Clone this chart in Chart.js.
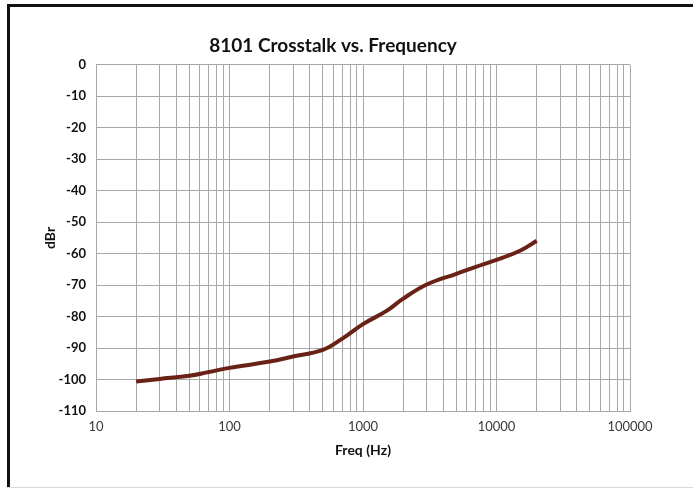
<!DOCTYPE html>
<html>
<head>
<meta charset="utf-8">
<script src="https://cdn.jsdelivr.net/npm/chart.js@4/dist/chart.umd.min.js"></script>
<style>
  html, body { margin: 0; padding: 0; background: #fff; }
  #wrap { position: relative; width: 693px; height: 491px; background: #fff; }
  #frameTop { position: absolute; left: 7px; top: 4px; width: 686px; height: 3px; background: #111; }
  #frameLeft { position: absolute; left: 7px; top: 4px; width: 3px; height: 484px; background: #111; }
  #frameBottom { position: absolute; left: 7px; top: 487px; width: 686px; height: 1px; background: #d8d8d8; }
  canvas { position: absolute; left: 0; top: 0; }
</style>
</head>
<body>
<div id="wrap">
  <canvas id="chart" width="693" height="491"></canvas>
  <div id="frameTop"></div>
  <div id="frameLeft"></div>
  <div id="frameBottom"></div>
</div>
<script>
const freqs = [20, 30, 50, 70, 100, 200, 300, 500, 700, 1000, 1500, 2000, 3000, 5000, 7000, 10000, 15000, 20000];
const dbr = [-100.6, -99.8, -98.8, -97.6, -96.3, -94.3, -92.7, -90.6, -87.0, -82.4, -78.2, -74.3, -69.8, -66.4, -64.2, -62.0, -59.1, -55.9];
const xDecades = [10, 100, 1000, 10000, 100000];
const yMin = -110, yMax = 0, yStep = 10;

const gridGray = '#a8a8a8';
const fontFam = "Lato, 'Open Sans', sans-serif";

new Chart(document.getElementById('chart'), {
  type: 'line',
  data: {
    datasets: [{
      label: 'Crosstalk',
      data: freqs.map((f, i) => ({ x: f, y: dbr[i] })),
      borderColor: '#6a2116',
      borderWidth: 4,
      pointRadius: 0,
      tension: 0.4,
      fill: false
    }]
  },
  options: {
    responsive: false,
    animation: false,
    layout: { padding: { left: 36, right: 63, top: 0, bottom: 28 } },
    plugins: {
      legend: { display: false },
      tooltip: { enabled: false },
      title: {
        display: true,
        text: '8101 Crosstalk vs. Frequency',
        color: '#111',
        font: { family: fontFam, size: 19, weight: 'bold' },
        padding: { top: 34, bottom: 8 }
      }
    },
    scales: {
      x: {
        type: 'logarithmic',
        min: xDecades[0],
        max: xDecades[xDecades.length - 1],
        afterBuildTicks: scale => {
          const t = [];
          for (let d = 0; d < xDecades.length - 1; d++) {
            for (let m = 1; m < 10; m++) t.push({ value: xDecades[d] * m });
          }
          t.push({ value: xDecades[xDecades.length - 1] });
          scale.ticks = t;
        },
        afterFit: scale => { scale.height = 52; },
        ticks: {
          autoSkip: false,
          maxRotation: 0,
          color: '#3a3a3a',
          font: { family: fontFam, size: 13 },
          padding: 8,
          callback: v => xDecades.includes(v) ? String(v) : ''
        },
        grid: { color: gridGray, lineWidth: 1, drawTicks: false },
        border: { color: gridGray },
        title: {
          display: true,
          text: 'Freq (Hz)',
          color: '#111',
          font: { family: fontFam, size: 14, weight: 'bold' },
          padding: { top: 3 }
        }
      },
      y: {
        min: yMin,
        max: yMax,
        ticks: {
          stepSize: yStep,
          color: '#111',
          font: { family: fontFam, size: 13, weight: 'bold' },
          padding: 10
        },
        afterFit: scale => { scale.width = 60; },
        grid: { color: gridGray, lineWidth: 1, drawTicks: false },
        border: { color: gridGray },
        title: {
          display: true,
          text: 'dBr',
          color: '#111',
          font: { family: fontFam, size: 14, weight: 'bold' },
          padding: { top: 6, bottom: 0 }
        }
      }
    }
  }
});
</script>
</body>
</html>
